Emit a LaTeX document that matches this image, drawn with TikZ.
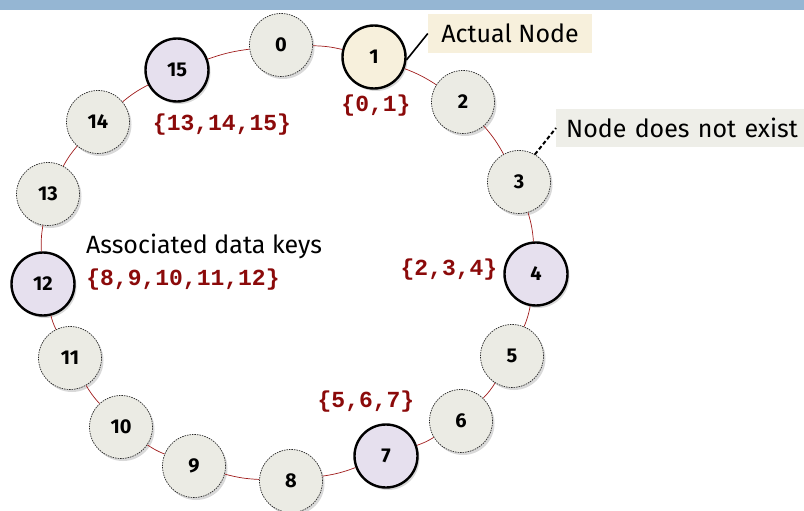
\documentclass[tikz,border=0pt]{standalone}
\usepackage{fontspec}
\setmainfont{Fira Sans}
\newfontfamily\keyfont{Liberation Mono}
\usetikzlibrary{shadows}
\definecolor{barblue}{HTML}{95B6D3}
\definecolor{ghostfill}{HTML}{EBEBE4}
\definecolor{realfill}{HTML}{E6E0EE}
\definecolor{actualfill}{HTML}{F7F0DC}
\definecolor{notefill}{HTML}{EEEEE8}
\definecolor{keyred}{HTML}{8B0A0A}
\definecolor{ringred}{HTML}{A01C1C}
\tikzset{
  ringnode/.style={circle, minimum size=63pt, inner sep=0pt,
    font=\fontsize{20}{23}\selectfont\bfseries,
    drop shadow={opacity=0.3, shadow xshift=2pt, shadow yshift=-2.5pt}},
  ghost/.style={ringnode, draw=black!85, dashed, dash pattern=on 1.5pt off 1pt,
    line width=0.7pt, fill=ghostfill},
  real/.style={ringnode, draw=black, line width=2.4pt, fill=realfill},
  actual/.style={real, fill=actualfill},
  ring/.style={draw=ringred, line width=0.7pt},
  keys/.style={text=keyred, font=\keyfont\bfseries\fontsize{23}{26}\selectfont, inner sep=0pt},
  note/.style={font=\fontsize{25}{29}\selectfont, inner ysep=5pt}
}
\begin{document}
\begin{tikzpicture}[x=1pt, y=-1pt]
\useasboundingbox (0,0) rectangle (804,511);
\fill[barblue] (0,0) rectangle (804,10);
% the ring of node slots
\node[ghost]  (n0)  at (281,45)  {0};
\node[actual] (n1)  at (374,57)  {1};
\node[ghost]  (n2)  at (463,102) {2};
\node[ghost]  (n3)  at (519,182) {3};
\node[real]   (n4)  at (536,274) {4};
\node[ghost]  (n5)  at (512,356) {5};
\node[ghost]  (n6)  at (461,421) {6};
\node[real]   (n7)  at (386,456) {7};
\node[ghost]  (n8)  at (291,481) {8};
\node[ghost]  (n9)  at (194,466) {9};
\node[ghost]  (n10) at (121,427) {10};
\node[ghost]  (n11) at (70,358)  {11};
\node[real]   (n12) at (43,284)  {12};
\node[ghost]  (n13) at (48,194)  {13};
\node[ghost]  (n14) at (98,122)  {14};
\node[real]   (n15) at (177,70)  {15};
% ring links, bowed outward along the circle
\foreach \a/\b in {0/1,1/2,2/3,3/4,4/5,5/6,6/7,7/8,8/9,9/10,10/11,11/12,12/13,13/14,14/15,15/0}
  \path[ring] (n\a) to[bend left=6] (n\b);
% key sets held by the real nodes
\node[keys] (k1)  at (376,106) {\{0,1\}};
\node[keys] (k15) at (222,125) {\{13,14,15\}};
\node[keys] (k4)  at (449,270) {\{2,3,4\}};
\node[keys] (k7)  at (366,402) {\{5,6,7\}};
\node[keys] (k12) at (183,280) {\{8,9,10,11,12\}};
\node[font=\fontsize{25}{29}\selectfont, inner sep=0pt] (assoc) at (204,246) {Associated data keys};
% callouts
\node[note, fill=actualfill, minimum width=164pt, minimum height=39pt] (actual) at (510,33.5) {Actual Node};
\draw[line width=1.6pt] (n1.-5) -- (actual.west);
\node[note, fill=notefill, anchor=west, minimum height=38pt, text width=238pt, inner xsep=10pt, align=left] (ghostnote) at (556,128) {Node does not exist};
\draw[line width=2pt, dash pattern=on 4pt off 2.5pt] (n3.60) -- (ghostnote.west);
\end{tikzpicture}
\end{document}
